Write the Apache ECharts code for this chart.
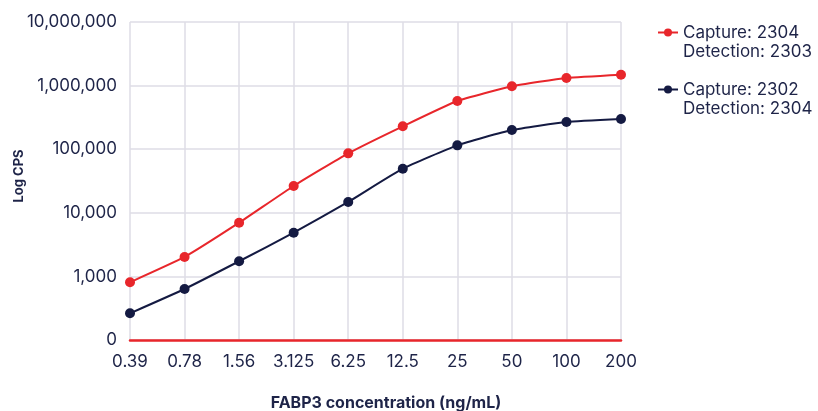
<!DOCTYPE html>
<html>
<head>
<meta charset="utf-8">
<script src="https://cdn.jsdelivr.net/npm/echarts@6/dist/echarts.min.js"></script>
<style>
  html, body { margin: 0; padding: 0; background: #ffffff; overflow: hidden; }
  #chart { width: 818px; height: 411px; }
</style>
</head>
<body>
<div id="chart"></div>
<script>
// FABP3 standard curves: signal (CPS) per concentration, two antibody pairs
const concentrations = ['0.39', '0.78', '1.56', '3.125', '6.25', '12.5', '25', '50', '100', '200'];
const pairA = [808, 2020, 6990, 26400, 86000, 229000, 573000, 975000, 1316000, 1485000];
const pairB = [263, 634, 1730, 4860, 14800, 49300, 115000, 200000, 268000, 298000];
const seriesNames = ['Capture: 2304\nDetection: 2303', 'Capture: 2302\nDetection: 2304'];
const yTicks = [100, 1000, 10000, 100000, 1000000, 10000000];

const textColor = '#1e2448';
const red = '#e8262b';
const navy = '#141a42';
const gridColor = '#dedde6';
const font = 'Inter, "Noto Sans", sans-serif';

const chart = echarts.init(document.getElementById('chart'), null, { renderer: 'canvas' });

function lineSeries(name, data, color) {
  return {
    name: name,
    type: 'line',
    data: data,
    smooth: 0.15,
    symbol: 'circle',
    symbolSize: 10,
    lineStyle: { color: color, width: 2 },
    itemStyle: { color: color },
    emphasis: { disabled: true },
    z: 3
  };
}

chart.setOption({
  animation: false,
  backgroundColor: '#ffffff',
  textStyle: { fontFamily: font, color: textColor },
  grid: { left: 130, right: 197, top: 22, bottom: 71, containLabel: false, outerBoundsMode: 'none' },
  legend: {
    orient: 'vertical',
    left: 657,
    top: 4,
    padding: 0,
    itemWidth: 20,
    itemHeight: 10,
    itemGap: 0,
    data: seriesNames,
    // a blank first line keeps the marker level with the "Capture" line
    formatter: function (name) { return '\n' + name; },
    textStyle: {
      fontFamily: font,
      fontSize: 17,
      color: textColor,
      lineHeight: 19
    }
  },
  xAxis: {
    type: 'category',
    data: concentrations,
    boundaryGap: false,
    name: 'FABP3 concentration (ng/mL)',
    nameLocation: 'middle',
    nameGap: 55,
    nameMoveOverlap: false,
    nameTextStyle: { fontFamily: font, fontSize: 16, fontWeight: 'bold', color: textColor, padding: [0, 0, 0, 21] },
    axisLine: { show: true, lineStyle: { color: red, width: 2.5 } },
    axisTick: { show: false },
    axisLabel: { fontFamily: font, fontSize: 17, color: textColor, margin: 13 },
    splitLine: { show: true, lineStyle: { color: gridColor, width: 1.5 } },
    z: 2
  },
  yAxis: {
    type: 'log',
    logBase: 10,
    min: yTicks[0],
    max: yTicks[yTicks.length - 1],
    name: 'Log CPS',
    nameLocation: 'middle',
    nameRotate: 90,
    nameGap: 104,
    nameMoveOverlap: false,
    nameTextStyle: { fontFamily: font, fontSize: 13, fontWeight: 'bold', color: textColor, padding: [0, 0, 0, 10] },
    axisLine: { show: false },
    axisTick: { show: false },
    axisLabel: {
      fontFamily: font,
      fontSize: 17,
      color: textColor,
      margin: 13,
      formatter: function (v) {
        return v <= yTicks[0] ? '0' : Math.round(v).toLocaleString('en-US');
      }
    },
    splitLine: { show: true, lineStyle: { color: gridColor, width: 1.5 } }
  },
  series: [
    lineSeries(seriesNames[0], pairA, red),
    lineSeries(seriesNames[1], pairB, navy)
  ]
});
</script>
</body>
</html>
